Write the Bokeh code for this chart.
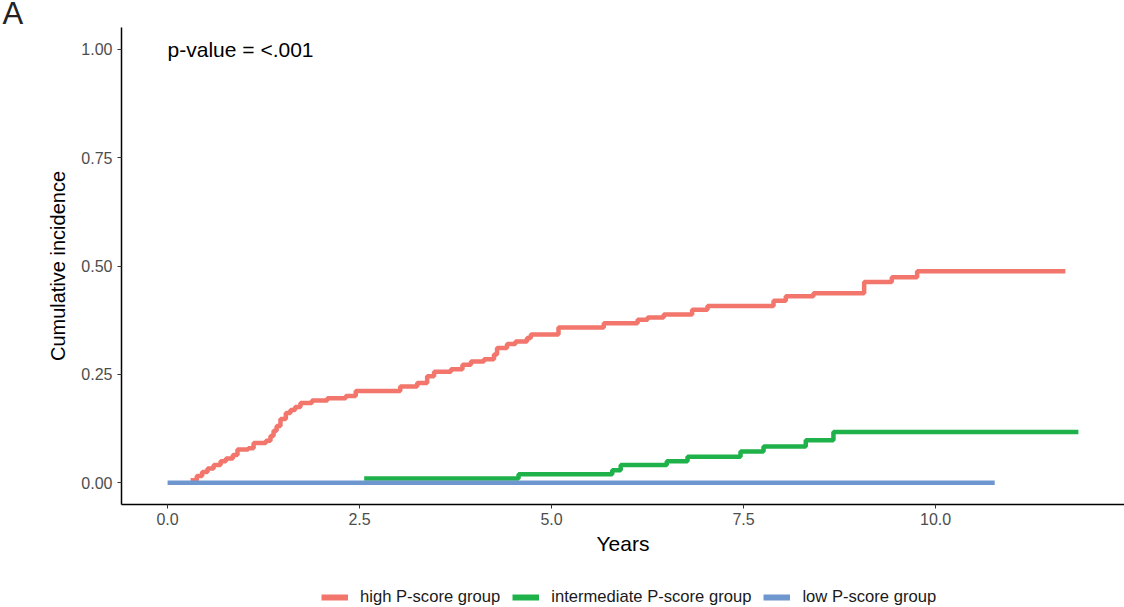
from bokeh.plotting import figure
from bokeh.models import Range1d, FixedTicker, NumeralTickFormatter, Legend, LegendItem, Label, Title
from bokeh.layouts import column
from bokeh.embed import file_html
from bokeh.resources import INLINE

# ---- data ----
high_t = [0.30, 0.38, 0.45, 0.52, 0.60, 0.69, 0.76, 0.85, 0.91, 1.05, 1.12, 1.28, 1.34, 1.38,
          1.42, 1.47, 1.54, 1.60, 1.66, 1.73, 1.88, 2.08, 2.32, 2.45, 3.03, 3.25, 3.38, 3.47,
          3.69, 3.84, 3.95, 4.12, 4.25, 4.29, 4.42, 4.53, 4.68, 4.73, 5.09, 5.68, 6.12, 6.25,
          6.46, 6.83, 7.03, 7.89, 8.05, 8.41, 9.07, 9.43, 9.76, 11.69]
high_v = [0.006, 0.016, 0.025, 0.033, 0.041, 0.050, 0.056, 0.064, 0.077, 0.080, 0.092, 0.097,
          0.108, 0.120, 0.131, 0.147, 0.161, 0.168, 0.175, 0.184, 0.190, 0.195, 0.200, 0.212,
          0.222, 0.230, 0.246, 0.256, 0.262, 0.272, 0.280, 0.285, 0.296, 0.311, 0.320, 0.326,
          0.334, 0.342, 0.358, 0.368, 0.376, 0.381, 0.388, 0.399, 0.408, 0.420, 0.430, 0.437,
          0.463, 0.474, 0.488, 0.488]

int_t = [2.56, 4.57, 5.79, 5.90, 6.50, 6.77, 7.46, 7.76, 8.31, 8.67, 11.86]
int_v = [0.010, 0.020, 0.029, 0.041, 0.050, 0.060, 0.072, 0.084, 0.098, 0.117, 0.117]

low_t = [0.0, 10.77]
low_v = [0.0, 0.0]

groups = ["high P-score group", "intermediate P-score group", "low P-score group"]
colors = ["#F2766B", "#1FB24A", "#6F97CF"]

x_ticks = [0.0, 2.5, 5.0, 7.5, 10.0]
y_ticks = [0.0, 0.25, 0.5, 0.75, 1.0]

FONT = "Liberation Sans"

# ---- main chart ----
p = figure(width=1124, height=575, output_backend="svg", toolbar_location=None,
           x_range=Range1d(-0.6, 12.46), y_range=Range1d(-0.05, 1.05),
           min_border_left=121, min_border_right=0, min_border_top=25, min_border_bottom=71)
p.outline_line_color = None
p.xgrid.visible = False
p.ygrid.visible = False
p.background_fill_color = "white"
p.border_fill_color = "white"

series = [(high_t, high_v), (int_t, int_v), (low_t, low_v)]
for (t, v), c in zip(series, colors):
    p.step(t, v, mode="after", line_color=c, line_width=4.5)

for ax in (p.xaxis[0], p.yaxis[0]):
    ax.axis_line_color = "black"
    ax.axis_line_width = 1.5
    ax.major_tick_line_color = "#333333"
    ax.major_tick_in = 0
    ax.major_tick_out = 4
    ax.minor_tick_line_color = None
    ax.major_label_text_font = FONT
    ax.major_label_text_font_size = "16px"
    ax.major_label_text_color = "#4D4D4D"
    ax.axis_label_text_font = FONT
    ax.axis_label_text_font_style = "normal"
    ax.axis_label_text_color = "black"

p.xaxis.axis_label_text_font_size = "21px"
p.yaxis.axis_label_text_font_size = "20px"
p.xaxis.ticker = FixedTicker(ticks=x_ticks)
p.yaxis.ticker = FixedTicker(ticks=y_ticks)
p.xaxis.formatter = NumeralTickFormatter(format="0.0")
p.yaxis.formatter = NumeralTickFormatter(format="0.00")
p.xaxis.axis_label = "Years"
p.yaxis.axis_label = "Cumulative incidence"
p.xaxis.major_label_standoff = 4
p.yaxis.major_label_standoff = 5
p.xaxis.axis_label_standoff = 4
p.yaxis.axis_label_standoff = 9

p.add_layout(Label(x=0.0, y=1.0, text="p-value = <.001", text_font=FONT,
                   text_font_size="21px", text_color="black", text_baseline="middle"))

panel_title = Title(text="A", align="left", offset=-119, standoff=-9.6, vertical_align="top",
                    text_font=FONT, text_font_size="31px", text_font_style="normal",
                    text_color="#222222")
p.add_layout(panel_title, "above")

# ---- legend strip (series drawn out of view; only the key is shown) ----
q = figure(width=1124, height=32, output_backend="svg", toolbar_location=None,
           x_range=Range1d(0, 1), y_range=Range1d(5, 6), x_axis_type=None, y_axis_type=None,
           min_border_left=0, min_border_right=0, min_border_top=0, min_border_bottom=0)
q.outline_line_color = None
q.xgrid.visible = False
q.ygrid.visible = False
q.background_fill_color = "white"
q.border_fill_color = "white"

items = []
for (t, v), c, g in zip(series, colors, groups):
    r = q.step(t, v, mode="after", line_color=c, line_width=6)
    items.append(LegendItem(label=g, renderers=[r]))
legend = Legend(items=items, orientation="horizontal", location=(200, 0),
                padding=0, margin=0, spacing=12, glyph_width=27, glyph_height=18,
                label_height=18, label_standoff=12, border_line_color=None,
                background_fill_alpha=0, label_text_font=FONT,
                label_text_font_size="16.6px", label_text_color="#1a1a1a")
q.add_layout(legend, "center")

open("out.html", "w").write(file_html(column(p, q), INLINE))
